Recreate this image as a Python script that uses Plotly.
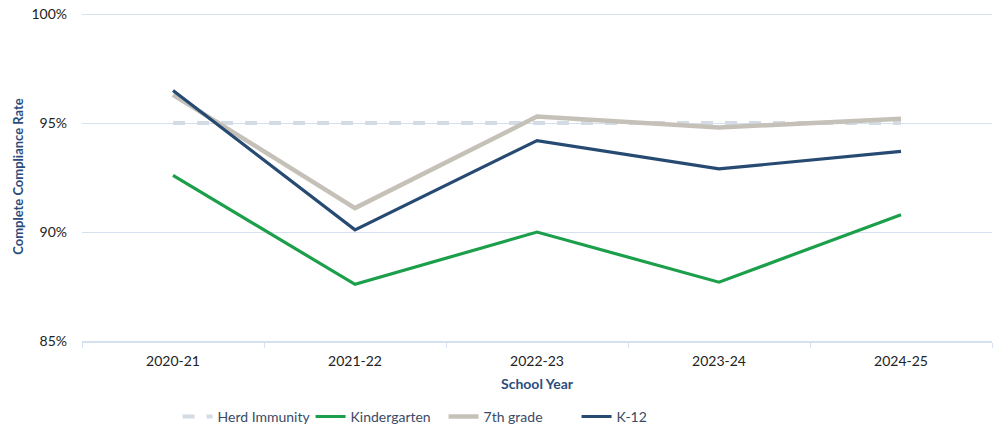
import plotly.graph_objects as go

years = ["2020-21", "2021-22", "2022-23", "2023-24", "2024-25"]
herd = [95, 95, 95, 95, 95]
kindergarten = [92.6, 87.6, 90.0, 87.7, 90.8]
seventh = [96.3, 91.1, 95.3, 94.8, 95.2]
k12 = [96.5, 90.1, 94.2, 92.9, 93.7]

FONT = "Lato, Open Sans, sans-serif"

fig = go.Figure()
fig.add_trace(go.Scatter(x=years, y=herd, name="Herd Immunity", mode="lines",
                         line=dict(color="#D3DCE4", width=4, dash="dash")))
fig.add_trace(go.Scatter(x=years, y=kindergarten, name="Kindergarten", mode="lines",
                         line=dict(color="#1C9F4B", width=3.2)))
fig.add_trace(go.Scatter(x=years, y=seventh, name="7th grade", mode="lines",
                         line=dict(color="#C6C1B8", width=4.5)))
fig.add_trace(go.Scatter(x=years, y=k12, name="K-12", mode="lines",
                         line=dict(color="#264A72", width=3.2)))

fig.update_layout(
    width=1000, height=432,
    margin=dict(l=82, r=8, t=12, b=91, autoexpand=False),
    paper_bgcolor="white", plot_bgcolor="white",
    font=dict(family=FONT, size=14, color="#222222"),
    showlegend=True,
    legend=dict(orientation="h", x=0.105, xanchor="left", yref="container", y=0.035, yanchor="middle",
                font=dict(size=14, color="#3A4A66"), itemwidth=30,
                entrywidth=88, entrywidthmode="pixels",
                tracegroupgap=0, traceorder="normal"),
)
fig.update_xaxes(
    title=dict(text="<b>School Year</b>", font=dict(size=14, color="#2C4D7C"), standoff=12),
    automargin=False, range=[-0.5, 4.5],
    showgrid=False, showline=True, linecolor="#D5E1EE", linewidth=1.5,
    ticks="outside", tickson="boundaries", ticklen=5, tickcolor="#D5E1EE",
    tickfont=dict(size=14, color="#222222"), ticklabelstandoff=6,
)
fig.update_yaxes(
    title=dict(text="<b>Complete Compliance Rate</b>", font=dict(size=13, color="#2C4D7C"), standoff=4),
    automargin=False, ticklabeloverflow="allow",
    range=[85, 100.1], tickvals=[85, 90, 95, 100], ticktext=["85%", "90%", "95%", "100%"],
    showgrid=True, gridcolor="#D5E1EE", gridwidth=1.2, zeroline=False,
    tickfont=dict(size=14, color="#222222"), ticks="", ticklabelstandoff=14,
)

fig.write_html("out.html", config={"displayModeBar": False},
               post_script="document.body.style.margin='0';")
